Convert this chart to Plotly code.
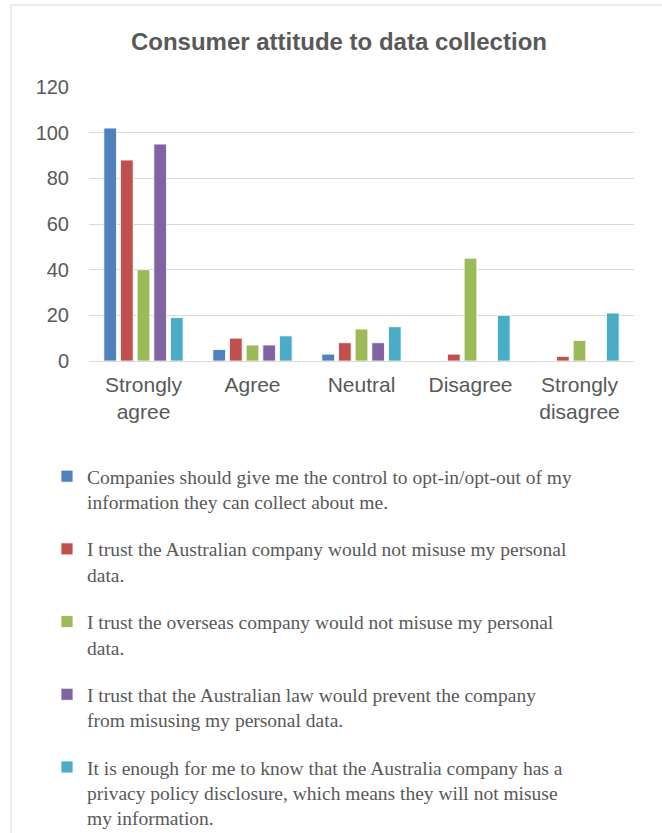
import plotly.graph_objects as go

# Response categories on the x axis
categories = ["Strongly<br>agree", "Agree", "Neutral", "Disagree", "Strongly<br>disagree"]

# Survey statements (legend entries, wrapped as in the chart)
statements = [
    "Companies should give me the control to opt-in/opt-out of my<br>information they can collect about me.",
    "I trust the Australian company would not misuse my personal<br>data.",
    "I trust the overseas company would not misuse my personal<br>data.",
    "I trust that the Australian law would prevent the company<br>from misusing my personal data.",
    "It is enough for me to know that the Australia company has a<br>privacy policy disclosure, which means they will not misuse<br>my information.",
]

# Number of respondents per statement, per category
control_opt_in = [102, 5, 3, 0, 0]
trust_au_company = [88, 10, 8, 3, 2]
trust_overseas_company = [40, 7, 14, 45, 9]
trust_au_law = [95, 7, 8, 0, 0]
privacy_policy_enough = [19, 11, 15, 20, 21]

series = [control_opt_in, trust_au_company, trust_overseas_company,
          trust_au_law, privacy_policy_enough]
colors = ["#4F81BD", "#C0504D", "#9BBB59", "#8064A2", "#4BACC6"]

y_ticks = [0, 20, 40, 60, 80, 100, 120]

W, H = 662, 833
L, R, T, B = 89, 28, 87, 472

fig = go.Figure()
for i, (name, vals, col) in enumerate(zip(statements, series, colors)):
    fig.add_trace(go.Bar(
        x=categories, y=vals, name=name, legendgroup=f"g{i}",
        marker=dict(color=col, line=dict(color="white", width=0.8)),
    ))

grey = "#595959"
fig.update_layout(
    width=W, height=H,
    margin=dict(l=L, r=R, t=T, b=B, autoexpand=False),
    paper_bgcolor="white", plot_bgcolor="white",
    barmode="group", bargap=0.236, bargroupgap=0.24,
    title=dict(text="<b>Consumer attitude to data collection</b>",
               x=0.512, xanchor="center", y=1 - 42 / H, yanchor="middle",
               font=dict(family="Liberation Sans, Arial", size=24, color=grey)),
    font=dict(family="Liberation Sans, Arial", color=grey),
    xaxis=dict(tickfont=dict(size=21, color=grey), showline=False,
               ticks="", showgrid=False, ticklabelstandoff=9),
    yaxis=dict(range=[0, 120], tickvals=y_ticks, tickfont=dict(size=20, color=grey),
               showgrid=True, gridcolor="#d9d9d9", gridwidth=1,
               zeroline=True, zerolinecolor="#d9d9d9", zerolinewidth=1,
               ticks="", showline=False, ticklabelstandoff=19),
    legend=dict(xref="container", yref="container",
                x=47 / W, y=1 - 457 / H, xanchor="left", yanchor="top",
                valign="top", tracegroupgap=19, traceorder="grouped",
                font=dict(family="Liberation Serif, Times New Roman", size=19.5, color=grey),
                bgcolor="rgba(0,0,0,0)"),
    showlegend=True,
)

# Light frame around the chart area
pw, ph = W - L - R, H - T - B
fig.add_shape(type="rect", xref="paper", yref="paper",
              x0=(11 - L) / pw, x1=(W + 20 - L) / pw,
              y0=(H - B - (H + 20)) / ph, y1=(H - B - 5) / ph,
              line=dict(color="#d9d9d9", width=1), fillcolor="rgba(0,0,0,0)",
              layer="below")

fig.write_html("out.html")
